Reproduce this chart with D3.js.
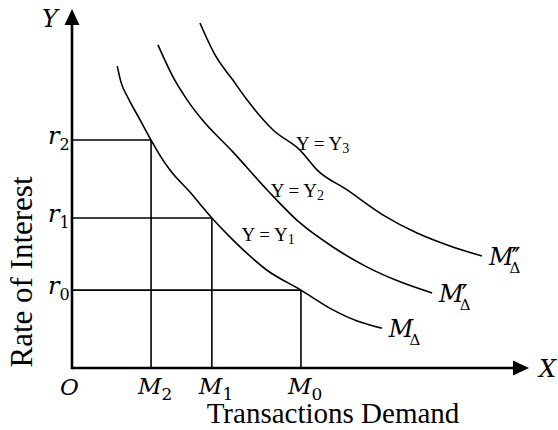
<!DOCTYPE html>
<html lang="en">
<head>
<meta charset="utf-8">
<title>Transactions Demand</title>
<script src="https://cdn.jsdelivr.net/npm/d3@7"></script>
<style>
body { margin: 0; background: #fff; }
text { fill: #000; }
</style>
</head>
<body>
<script>
var w = 558, h = 430

// demand curves, [transactions demand, rate of interest]
var curveY1 = [[9.9,84.1],[10.7,79.7],[12.3,75.2],[14.9,69.1],[17.3,63.5],[19.3,59.1],[21.4,55.2],[25.8,49.0],[30.6,41.8],[35.2,35.7],[42.6,27.3],[50.1,21.7],[57.1,16.2],[62.4,13.1],[67.8,11.1]]
var curveY2 = [[18.8,90.0],[22.1,81.1],[25.2,74.7],[28.0,69.9],[35.2,60.2],[42.7,49.6],[49.9,40.4],[57.1,33.7],[64.6,28.1],[71.8,24.0],[78.8,20.9]]
var curveY3 = [[28.0,96.1],[31.3,87.2],[35.2,80.2],[38.3,74.7],[44.0,66.3],[49.9,60.7],[53.6,55.2],[60.2,49.6],[68.1,42.6],[75.5,37.6],[82.7,34.0],[89.7,31.2]]
var curves = [curveY1, curveY2, curveY3]

var incomeSubs = ["1", "2", "3"]
var incomeLabelAt = [[37.1,35.4],[43.5,47.6],[49.0,60.7]]
var primes = ["", "\u2032", "\u2032\u2032"]

// points
var rateLevels = [21.7, 41.8, 63.5]
var demandLevels = [50.1, 30.6, 17.3]
var levelSubs = ["0", "1", "2"]

var svg = d3.select("body").append("svg").attr("width", w).attr("height", h)

var x = d3.scaleLinear().domain([0, 100]).range([72, 529])
var y = d3.scaleLinear().domain([0, 100]).range([368, 9])

var mathFont = "'DejaVu Serif', serif"
var textFont = "'Liberation Serif', 'Times New Roman', serif"

// axes with arrow heads
svg.append("line")
	.attr("x1", x(0)).attr("y1", y(0))
	.attr("x2", x(100) - 14).attr("y2", y(0))
	.attr("stroke", "black").attr("stroke-width", 2.6)
svg.append("line")
	.attr("x1", x(0)).attr("y1", y(0) + 1.3)
	.attr("x2", x(0)).attr("y2", y(100) + 14)
	.attr("stroke", "black").attr("stroke-width", 2.6)
svg.append("path")
	.attr("d", "M" + (x(100) - 16) + "," + (y(0) - 7.5) + "L" + x(100) + "," + y(0) + "L" + (x(100) - 16) + "," + (y(0) + 7.5) + "Z")
svg.append("path")
	.attr("d", "M" + (x(0) - 7.5) + "," + (y(100) + 16) + "L" + x(0) + "," + y(100) + "L" + (x(0) + 7.5) + "," + (y(100) + 16) + "Z")

// guide lines
svg.selectAll(".hline")
	.data(rateLevels)
	.enter()
	.append("line")
	.attr("class", "hline")
	.attr("x1", x(0)).attr("y1", function(d) { return y(d) })
	.attr("x2", function(d, i) { return x(demandLevels[i]) })
	.attr("y2", function(d) { return y(d) })
	.attr("stroke", "black").attr("stroke-width", 1.6)

svg.selectAll(".vline")
	.data(demandLevels)
	.enter()
	.append("line")
	.attr("class", "vline")
	.attr("x1", function(d) { return x(d) }).attr("y1", y(0))
	.attr("x2", function(d) { return x(d) })
	.attr("y2", function(d, i) { return y(rateLevels[i]) })
	.attr("stroke", "black").attr("stroke-width", 1.6)

var line = d3.line()
	.x(function(d) { return x(d[0]) })
	.y(function(d) { return y(d[1]) })
	.curve(d3.curveMonotoneX)

svg.selectAll(".curve")
	.data(curves)
	.enter()
	.append("path")
	.attr("class", "curve")
	.attr("d", line)
	.attr("fill", "none")
	.attr("stroke", "black")
	.attr("stroke-width", 1.6)

// Y = Yi labels
var inc = svg.selectAll(".inc")
	.data(incomeSubs)
	.enter()
	.append("text")
	.attr("class", "inc")
	.attr("x", function(d, i) { return x(incomeLabelAt[i][0]) })
	.attr("y", function(d, i) { return y(incomeLabelAt[i][1]) })
	.attr("font-family", textFont)
	.attr("font-size", "19px")
	.text("Y = Y")
inc.append("tspan")
	.attr("dy", 3)
	.attr("font-size", "14px")
	.text(function(d) { return d })

// curve end labels M, M', M''
curves.forEach(function(c, i) {
	var end = c[c.length - 1]
	var g = svg.append("g")
		.attr("transform", "translate(" + (x(end[0]) + 7) + "," + (y(end[1]) + 9) + ")")
	var m = g.append("text")
		.attr("font-family", mathFont).attr("font-style", "italic")
		.attr("font-size", "24px")
		.text("M")
	var mw = m.node().getComputedTextLength()
	g.append("text")
		.attr("x", mw - 2).attr("y", 2)
		.attr("font-family", "'DejaVu Sans', sans-serif")
		.attr("font-size", "26px")
		.attr("letter-spacing", "-3px")
		.text(primes[i])
	g.append("text")
		.attr("x", mw - 4).attr("y", 8)
		.attr("font-family", mathFont)
		.attr("font-size", "15px")
		.text("\u0394")
})

// r labels
var rl = svg.selectAll(".rlab")
	.data(rateLevels)
	.enter()
	.append("text")
	.attr("class", "rlab")
	.attr("x", x(0) - 24)
	.attr("y", function(d) { return y(d) + 4 })
	.attr("font-family", mathFont).attr("font-style", "italic")
	.attr("font-size", "24px")
	.text("r")
rl.append("tspan")
	.attr("dy", 6)
	.attr("font-style", "normal")
	.attr("font-size", "16px")
	.text(function(d, i) { return levelSubs[i] })

// M labels
var ml = svg.selectAll(".mlab")
	.data(demandLevels)
	.enter()
	.append("text")
	.attr("class", "mlab")
	.attr("x", function(d) { return x(d) - 13 })
	.attr("y", y(0) + 26)
	.attr("font-family", mathFont).attr("font-style", "italic")
	.attr("font-size", "23px")
	.text("M")
ml.append("tspan")
	.attr("dy", 6)
	.attr("font-style", "normal")
	.attr("font-size", "17px")
	.text(function(d, i) { return levelSubs[i] })

// origin and axis letters
svg.append("text")
	.attr("x", x(0) - 12).attr("y", y(0) + 27)
	.attr("font-family", mathFont).attr("font-style", "italic")
	.attr("font-size", "23px")
	.text("O")
svg.append("text")
	.attr("x", x(100) + 10).attr("y", y(0) + 9)
	.attr("font-family", mathFont).attr("font-style", "italic")
	.attr("font-size", "24px")
	.text("X")
svg.append("text")
	.attr("x", x(0) - 30).attr("y", y(100) + 18)
	.attr("font-family", mathFont).attr("font-style", "italic")
	.attr("font-size", "24px")
	.text("Y")

// axis titles
svg.append("text")
	.attr("transform", "translate(32," + 272 + ") rotate(-90)")
	.attr("text-anchor", "middle")
	.attr("font-family", textFont)
	.attr("font-size", "31px")
	.text("Rate of Interest")
svg.append("text")
	.attr("x", 333).attr("y", 423)
	.attr("text-anchor", "middle")
	.attr("font-family", textFont)
	.attr("font-size", "29px")
	.text("Transactions Demand")
</script>
</body>
</html>
